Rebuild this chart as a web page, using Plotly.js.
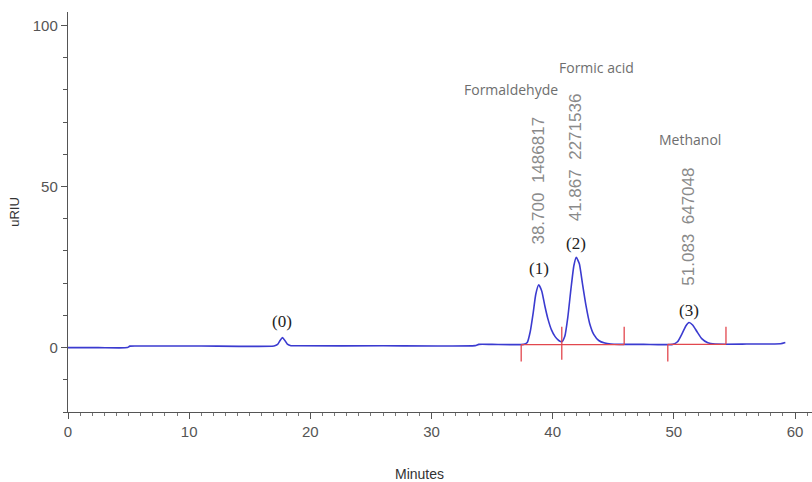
<!DOCTYPE html>
<html>
<head>
<meta charset="utf-8">
<script src="https://cdn.plot.ly/plotly-3.0.1.min.js"></script>
<style>html,body{margin:0;padding:0;background:#fff;}#chart{width:812px;height:482px;}</style>
</head>
<body>
<div id="chart"></div>
<script>
// Chromatogram trace (minutes, uRIU)
const timeMin = [0, 2.5, 4.9, 5.1, 6.0, 11.0, 17.0, 17.3, 17.5, 17.7, 17.9, 18.1, 18.4, 19.0, 26.0, 33.6, 33.9, 35.0, 37.6, 37.9, 38.15, 38.4, 38.6, 38.85, 39.1, 39.35, 39.6, 39.9, 40.2, 40.5, 40.75, 41.0, 41.25, 41.5, 41.75, 41.95, 42.2, 42.45, 42.75, 43.05, 43.4, 43.8, 44.3, 44.8, 45.5, 47.5, 49.9, 50.3, 50.7, 51.0, 51.25, 51.55, 51.9, 52.3, 52.8, 53.4, 56.0, 58.8, 59.2];
const signal  = [0, 0, 0, 0.45, 0.5, 0.5, 0.5, 1.0, 2.2, 3.1, 2.2, 1.1, 0.6, 0.55, 0.55, 0.6, 1.0, 1.0, 1.0, 1.6, 5.0, 11.0, 16.5, 19.5, 17.5, 13.0, 9.0, 5.5, 3.4, 2.2, 1.8, 3.5, 9.5, 18.0, 25.5, 28.0, 26.0, 20.0, 13.0, 7.5, 4.0, 2.2, 1.4, 1.1, 1.0, 1.0, 1.0, 1.8, 4.5, 6.8, 7.8, 7.0, 5.0, 2.8, 1.5, 1.1, 1.1, 1.2, 1.6];

// Integration markers
const baseX = [37.4, 45.9, null, 49.5, 54.3];
const baseY = [0.9, 0.9, null, 1.0, 1.0];
const tickX = [37.4, 37.4, null, 40.75, 40.75, null, 45.9, 45.9, null, 49.5, 49.5, null, 54.3, 54.3];
const tickY = [0.9, -4.3, null, 6.5, -3.8, null, 6.5, 0.9, null, 1.0, -4.3, null, 6.5, 1.0];

// Peak annotations
const peakIds = ['(0)', '(1)', '(2)', '(3)'];
const peakRT = [17.7, 38.85, 41.95, 51.25];
const peakIdY = [8.0, 24.5, 32.2, 11.5];
const rtLabels = ['38.700', '41.867', '51.083'];
const areaLabels = ['1486817', '2271536', '647048'];
const rtLabelBaseY = [31.3, 38.7, 18.6];
const compoundNames = ['Formaldehyde', 'Formic acid', 'Methanol'];
const compoundX = [36.6, 43.6, 51.3];
const compoundY = [80.2, 87.0, 64.7];

const traces = [
  {x: timeMin, y: signal, type: 'scatter', mode: 'lines', line: {color: '#3b3bd0', width: 1.6, shape: 'spline', smoothing: 0.5}, hoverinfo: 'skip'},
  {x: baseX, y: baseY, type: 'scatter', mode: 'lines', line: {color: '#e2474e', width: 1.3}, connectgaps: false, hoverinfo: 'skip'},
  {x: tickX, y: tickY, type: 'scatter', mode: 'lines', line: {color: '#e2474e', width: 1.3}, connectgaps: false, hoverinfo: 'skip'}
];

const annotations = [];
peakIds.forEach((t, i) => annotations.push({
  x: peakRT[i], y: peakIdY[i], xref: 'x', yref: 'y', text: t, showarrow: false,
  font: {family: 'Liberation Serif, serif', size: 17, color: '#222'}
}));
rtLabels.forEach((t, i) => annotations.push({
  x: peakRT[i + 1], y: rtLabelBaseY[i], xref: 'x', yref: 'y', text: t + '  ' + areaLabels[i],
  textangle: -90, yanchor: 'bottom', showarrow: false,
  font: {family: 'Liberation Sans, Arial, sans-serif', size: 17, color: '#8a8a8a'}
}));
compoundNames.forEach((t, i) => annotations.push({
  x: compoundX[i], y: compoundY[i], xref: 'x', yref: 'y', text: t, showarrow: false,
  font: {family: 'Open Sans, sans-serif', size: 14, color: '#6e6e6e'}
}));
annotations.push({
  x: 0.473, y: 0, xref: 'paper', yref: 'paper', yanchor: 'top', yshift: -52, text: 'Minutes', showarrow: false,
  font: {family: 'Liberation Sans Narrow, Liberation Sans, Arial, sans-serif', size: 14, color: '#333'}
});

const layout = {
  width: 812, height: 482,
  margin: {l: 68, r: 0, t: 12, b: 70},
  paper_bgcolor: '#fff', plot_bgcolor: '#fff',
  showlegend: false,
  xaxis: {
    range: [0, 61.4], dtick: 10, tick0: 0, showgrid: false, zeroline: false,
    showline: true, linecolor: '#555', linewidth: 1.2,
    ticks: 'outside', ticklen: 6, tickcolor: '#555',
    minor: {dtick: 1, ticks: 'outside', ticklen: 3, tickcolor: '#777', showgrid: false},
    tickfont: {family: 'Liberation Sans Narrow, Liberation Sans, Arial, sans-serif', size: 15, color: '#555'}
  },
  yaxis: {
    range: [-20, 104.2], dtick: 50, tick0: 0, showgrid: false, zeroline: false,
    showline: true, linecolor: '#555', linewidth: 1.2,
    ticks: 'outside', ticklen: 6, tickcolor: '#555',
    minor: {dtick: 10, ticks: 'outside', ticklen: 4, tickcolor: '#555', showgrid: false},
    tickfont: {family: 'Liberation Sans, Arial, sans-serif', size: 15, color: '#555'},
    title: {text: 'uRIU', standoff: 10, font: {family: 'Liberation Sans, Arial, sans-serif', size: 13, color: '#333'}}
  },
  annotations: annotations
};

Plotly.newPlot('chart', traces, layout, {displayModeBar: false, staticPlot: true});
</script>
</body>
</html>
